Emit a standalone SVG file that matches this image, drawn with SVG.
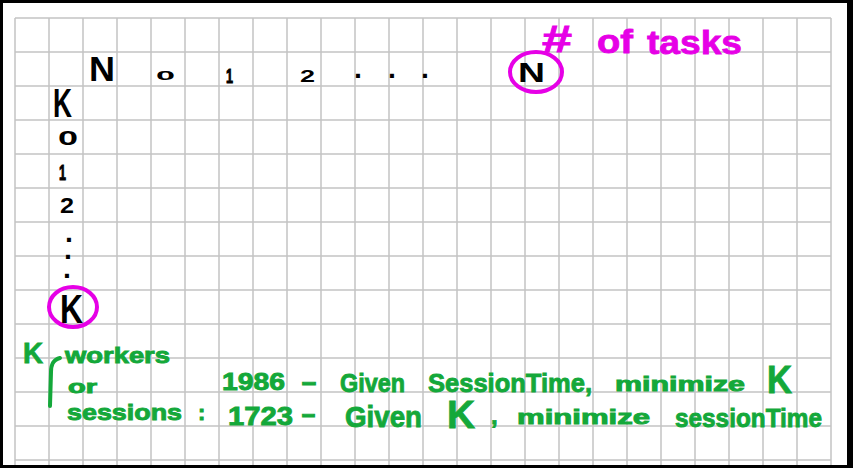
<svg xmlns="http://www.w3.org/2000/svg" width="853" height="468" viewBox="0 0 853 468">
<style>
.grid line{stroke:#c3c3c3;stroke-width:1.5}
.blk{fill:#000;font-family:"Liberation Sans",Arial,sans-serif;font-weight:bold}
.dot{fill:#000;stroke:#000;stroke-width:2;font-family:"Liberation Sans",Arial,sans-serif;font-weight:bold;font-size:14px}
.mag{fill:#e600e6;stroke:#e600e6;stroke-width:0.8;font-family:"Liberation Sans",Arial,sans-serif;font-weight:bold}
.grn{fill:#14a83a;stroke:#14a83a;stroke-width:0.9;font-family:"Liberation Sans",Arial,sans-serif;font-weight:bold}
.ring{fill:none;stroke:#e600e6;stroke-width:4}
</style>
<rect width="853" height="468" fill="#fff"/>
<g class="grid" id="grid">
<line x1="15" y1="18" x2="15" y2="465"/><line x1="49" y1="18" x2="49" y2="465"/><line x1="83" y1="18" x2="83" y2="465"/><line x1="117" y1="18" x2="117" y2="465"/><line x1="151" y1="18" x2="151" y2="465"/><line x1="185" y1="18" x2="185" y2="465"/><line x1="219" y1="18" x2="219" y2="465"/><line x1="253" y1="18" x2="253" y2="465"/><line x1="287" y1="18" x2="287" y2="465"/><line x1="321" y1="18" x2="321" y2="465"/><line x1="355" y1="18" x2="355" y2="465"/><line x1="389" y1="18" x2="389" y2="465"/><line x1="423" y1="18" x2="423" y2="465"/><line x1="457" y1="18" x2="457" y2="465"/><line x1="491" y1="18" x2="491" y2="465"/><line x1="525" y1="18" x2="525" y2="465"/><line x1="559" y1="18" x2="559" y2="465"/><line x1="593" y1="18" x2="593" y2="465"/><line x1="627" y1="18" x2="627" y2="465"/><line x1="661" y1="18" x2="661" y2="465"/><line x1="695" y1="18" x2="695" y2="465"/><line x1="729" y1="18" x2="729" y2="465"/><line x1="763" y1="18" x2="763" y2="465"/><line x1="797" y1="18" x2="797" y2="465"/><line x1="831" y1="18" x2="831" y2="465"/>
<line x1="15" y1="18" x2="831" y2="18"/><line x1="15" y1="52" x2="831" y2="52"/><line x1="15" y1="86" x2="831" y2="86"/><line x1="15" y1="120" x2="831" y2="120"/><line x1="15" y1="154" x2="831" y2="154"/><line x1="15" y1="188" x2="831" y2="188"/><line x1="15" y1="222" x2="831" y2="222"/><line x1="15" y1="256" x2="831" y2="256"/><line x1="15" y1="290" x2="831" y2="290"/><line x1="15" y1="324" x2="831" y2="324"/><line x1="15" y1="358" x2="831" y2="358"/><line x1="15" y1="392" x2="831" y2="392"/><line x1="15" y1="426" x2="831" y2="426"/><line x1="15" y1="460" x2="831" y2="460"/>
</g>
<g id="frame">
<rect x="1.5" y="1.5" width="847" height="465" fill="none" stroke="#000" stroke-width="3"/>
<rect x="847" y="0" width="6" height="468" fill="#000"/>
</g>
<g id="header-row">
<text class="blk" x="89" y="81" font-size="35" textLength="26" lengthAdjust="spacingAndGlyphs">N</text>
<text class="blk" transform="translate(156,80) scale(1.9,0.75)" font-size="18">0</text>
<text class="blk" x="226" y="83" font-size="21" stroke="#000" stroke-width="1" textLength="7" lengthAdjust="spacingAndGlyphs">1</text>
<text class="blk" x="300" y="82" font-size="16" textLength="15" lengthAdjust="spacingAndGlyphs">2</text>
<text class="dot" x="356" y="77">.</text>
<text class="dot" x="390" y="77">.</text>
<text class="dot" x="423" y="77">.</text>
</g>
<g id="n-circled">
<ellipse class="ring" cx="536" cy="72" rx="26" ry="20"/>
<text class="blk" x="518" y="82" font-size="28" textLength="27" lengthAdjust="spacingAndGlyphs">N</text>
</g>
<g id="tasks-label">
<text class="mag" x="542" y="52" font-size="36" textLength="30" lengthAdjust="spacingAndGlyphs">#</text>
<text class="mag" x="597" y="53" font-size="34" textLength="36" lengthAdjust="spacingAndGlyphs">of</text>
<text class="mag" x="647" y="54" font-size="34" textLength="95" lengthAdjust="spacingAndGlyphs">tasks</text>
</g>
<g id="left-column">
<text class="blk" x="53" y="117" font-size="40" textLength="19" lengthAdjust="spacingAndGlyphs">K</text>
<text class="blk" transform="translate(58,145) scale(1.8,1.0)" font-size="20">0</text>
<text class="blk" x="59" y="180" font-size="22" stroke="#000" stroke-width="1" textLength="7" lengthAdjust="spacingAndGlyphs">1</text>
<text class="blk" x="60" y="213" font-size="22" textLength="14" lengthAdjust="spacingAndGlyphs">2</text>
<text class="dot" x="67" y="241">.</text>
<text class="dot" x="66" y="258">.</text>
<text class="dot" x="65" y="277">.</text>
</g>
<g id="k-circled">
<ellipse class="ring" cx="73" cy="307" rx="24" ry="20"/>
<text class="blk" x="60" y="323" font-size="40" textLength="23" lengthAdjust="spacingAndGlyphs">K</text>
</g>
<g id="notes">
<text class="grn" x="23" y="363" font-size="30" textLength="20" lengthAdjust="spacingAndGlyphs">K</text>
<text class="grn" x="65" y="363" font-size="22" textLength="105" lengthAdjust="spacingAndGlyphs">workers</text>
<path d="M60 358 C52 360 51 366 51 372 L50 406" fill="none" stroke="#14a83a" stroke-width="4" stroke-linecap="round"/>
<text class="grn" x="68" y="393" font-size="18" textLength="29" lengthAdjust="spacingAndGlyphs">or</text>
<text class="grn" x="67" y="420" font-size="22" textLength="115" lengthAdjust="spacingAndGlyphs">sessions</text>
<text class="grn" x="198" y="420" font-size="22">:</text>
<text class="grn" x="222" y="390" font-size="24" textLength="63" lengthAdjust="spacingAndGlyphs">1986</text>
<text class="grn" x="301" y="390" font-size="24" textLength="16" lengthAdjust="spacingAndGlyphs">-</text>
<text class="grn" x="340" y="392" font-size="26" textLength="65" lengthAdjust="spacingAndGlyphs">Given</text>
<text class="grn" x="428" y="392" font-size="26" textLength="164" lengthAdjust="spacingAndGlyphs">SessionTime,</text>
<text class="grn" x="615" y="391" font-size="20" textLength="130" lengthAdjust="spacingAndGlyphs">minimize</text>
<text class="grn" x="767" y="393" font-size="38" textLength="25" lengthAdjust="spacingAndGlyphs">K</text>
<text class="grn" x="228" y="425" font-size="26" textLength="65" lengthAdjust="spacingAndGlyphs">1723</text>
<text class="grn" x="301" y="422" font-size="24" textLength="15" lengthAdjust="spacingAndGlyphs">-</text>
<text class="grn" x="345" y="427" font-size="30" textLength="77" lengthAdjust="spacingAndGlyphs">Given</text>
<text class="grn" x="447" y="428" font-size="38" textLength="28" lengthAdjust="spacingAndGlyphs">K</text>
<text class="grn" x="491" y="424" font-size="24">,</text>
<text class="grn" x="517" y="424" font-size="20" textLength="133" lengthAdjust="spacingAndGlyphs">minimize</text>
<text class="grn" x="675" y="427" font-size="26" textLength="147" lengthAdjust="spacingAndGlyphs">sessionTime</text>
</g>
</svg>
